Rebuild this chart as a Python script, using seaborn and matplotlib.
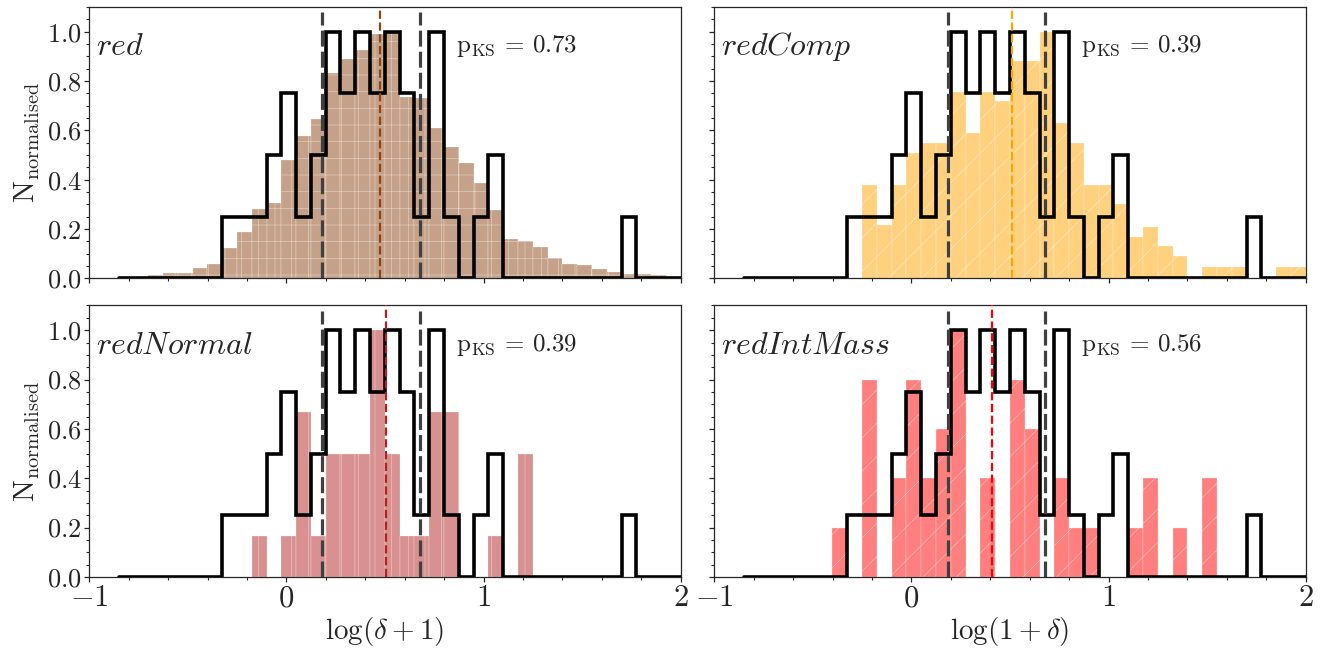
import numpy as np
import pandas as pd
import matplotlib
matplotlib.use("Agg")
import matplotlib.pyplot as plt
from matplotlib.ticker import MultipleLocator
import seaborn as sns

# ---------------- data ----------------
bin_lo, bin_hi, n_bins = -0.851, 2.0, 38
bin_edges = np.linspace(bin_lo, bin_hi, n_bins + 1)
bin_centers = 0.5 * (bin_edges[:-1] + bin_edges[1:])

# reference sample (black step histogram, same in every panel)
ref_heights = [0, 0, 0, 0, 0, 0, 0, 0.25, 0.25, 0.25,
               0.5, 0.75, 0.25, 0.5, 1.0, 0.75, 1.0, 0.75, 1.0, 0.75,
               0.25, 1.0, 0.25, 0, 0.25, 0.5, 0, 0, 0, 0,
               0, 0, 0, 0, 0.25, 0, 0, 0]

red_heights = [0.004, 0.006, 0.013, 0.024, 0.024, 0.044, 0.058, 0.125, 0.19, 0.28,
               0.306, 0.48, 0.577, 0.648, 0.832, 0.89, 0.926, 0.99, 1.0, 0.735,
               0.73, 0.608, 0.534, 0.467, 0.387, 0.276, 0.158, 0.152, 0.128, 0.085,
               0.058, 0.055, 0.04, 0.027, 0.02, 0.017, 0.013, 0.008]

redcomp_heights = [0, 0, 0, 0, 0, 0, 0, 0, 0.378, 0.216,
                   0.378, 0.507, 0.547, 0.547, 0.757, 0.59, 0.757, 0.72, 0.88, 0.88,
                   1.0, 0.63, 0.547, 0.38, 0.38, 0.30, 0.17, 0.21, 0.13, 0.09,
                   0, 0.047, 0.047, 0.047, 0, 0, 0.047, 0.047]

rednormal_heights = [0, 0, 0, 0, 0, 0, 0, 0, 0, 1/6,
                     0, 1/6, 4/6, 1/6, 3/6, 3/6, 3/6, 1.0, 3/6, 1/6,
                     1/6, 4/6, 4/6, 0, 0, 1/6, 0, 3/6, 0, 0,
                     0, 0, 0, 0, 0, 0, 0, 0]

redintmass_heights = [0, 0, 0, 0, 0, 0, 0.2, 0, 0.8, 0,
                      0.4, 0.8, 0.4, 0.6, 1.0, 0, 0.4, 0, 0.8, 0.6,
                      0, 0.4, 0.2, 0.2, 0, 0, 0.2, 0.4, 0, 0.2,
                      0, 0.4, 0, 0, 0, 0, 0, 0]

panel_names = ["red", "redComp", "redNormal", "redIntMass"]
panel_heights = [red_heights, redcomp_heights, rednormal_heights, redintmass_heights]
panel_colors = ["saddlebrown", "orange", "firebrick", "red"]
panel_hatches = ["+", "/", "|", "/"]
p_ks = [0.73, 0.39, 0.39, 0.56]
medians = [0.477, 0.509, 0.507, 0.411]
ref_percentiles = [0.183, 0.677]
xlabels = [r"$\log(\delta+1)$", r"$\log(1+\delta)$"]

# ---------------- style ----------------
sns.set_style("ticks")
plt.rcParams["font.family"] = ["serif"]
plt.rcParams["font.serif"] = ["cmr10", "DejaVu Serif"]
plt.rcParams["mathtext.fontset"] = "cm"
plt.rcParams["axes.formatter.use_mathtext"] = True
plt.rcParams["axes.unicode_minus"] = True
plt.rcParams["axes.linewidth"] = 0.9
plt.rcParams["hatch.linewidth"] = 0.45

fig, axes = plt.subplots(2, 2, figsize=(13.38, 6.48), dpi=100)
fig.subplots_adjust(left=0.0667, right=0.9759, bottom=0.1096, top=0.9892,
                    wspace=0.0568, hspace=0.0994)

for i, ax in enumerate(axes.flat):
    df = pd.DataFrame({"x": bin_centers, "w": panel_heights[i]})
    sns.histplot(data=df, x="x", weights="w", bins=n_bins, binrange=(bin_lo, bin_hi),
                 element="bars", fill=True, color=panel_colors[i], alpha=0.5,
                 edgecolor=(1, 1, 1, 0.5), linewidth=0.35,
                 hatch=panel_hatches[i], ax=ax, zorder=1)
    dref = pd.DataFrame({"x": bin_centers, "w": ref_heights})
    sns.histplot(data=dref, x="x", weights="w", bins=n_bins, binrange=(bin_lo, bin_hi),
                 element="step", fill=False, color="black", linewidth=2.6,
                 ax=ax, zorder=3)
    for line in ax.lines:
        line.set_solid_joinstyle("miter")
    for xp in ref_percentiles:
        ax.axvline(xp, ymin=0, ymax=0.98, color="#404040", linewidth=2.3,
                   linestyle=(0, (5, 1.6)), zorder=4)
    ax.axvline(medians[i], color=panel_colors[i], linewidth=1.6,
               linestyle="--", zorder=5)

    ax.set_xlim(-1, 2)
    ax.set_ylim(0, 1.1)
    ax.xaxis.set_major_locator(MultipleLocator(1))
    ax.xaxis.set_minor_locator(MultipleLocator(0.2))
    ax.yaxis.set_major_locator(MultipleLocator(0.2))
    ax.yaxis.set_minor_locator(MultipleLocator(0.05))
    ax.tick_params(which="major", direction="out", length=3.5, width=0.9)
    ax.tick_params(which="minor", direction="out", length=2, width=0.8)
    ax.tick_params(axis="x", labelsize=22, pad=2)
    ax.tick_params(axis="y", labelsize=19, pad=2)

    ax.text(0.011, 0.823, "$" + panel_names[i] + "$", transform=ax.transAxes,
            fontsize=23, va="baseline", ha="left")
    ax.text(0.62, 0.834, r"$\mathrm{p_{KS}}$ = " + f"{p_ks[i]:.2f}",
            transform=ax.transAxes, fontsize=18, va="baseline", ha="left")

    row, col = divmod(i, 2)
    if row == 0:
        ax.tick_params(axis="x", labelbottom=False)
        ax.set_xlabel("")
    else:
        ax.set_xlabel(xlabels[col], fontsize=21, labelpad=2)
    if col == 1:
        ax.tick_params(axis="y", labelleft=False)
        ax.set_ylabel("")
    else:
        ax.set_ylabel(r"$\mathrm{N_{normalised}}$", fontsize=21, labelpad=3)

fig.savefig("out.png", dpi=100)
